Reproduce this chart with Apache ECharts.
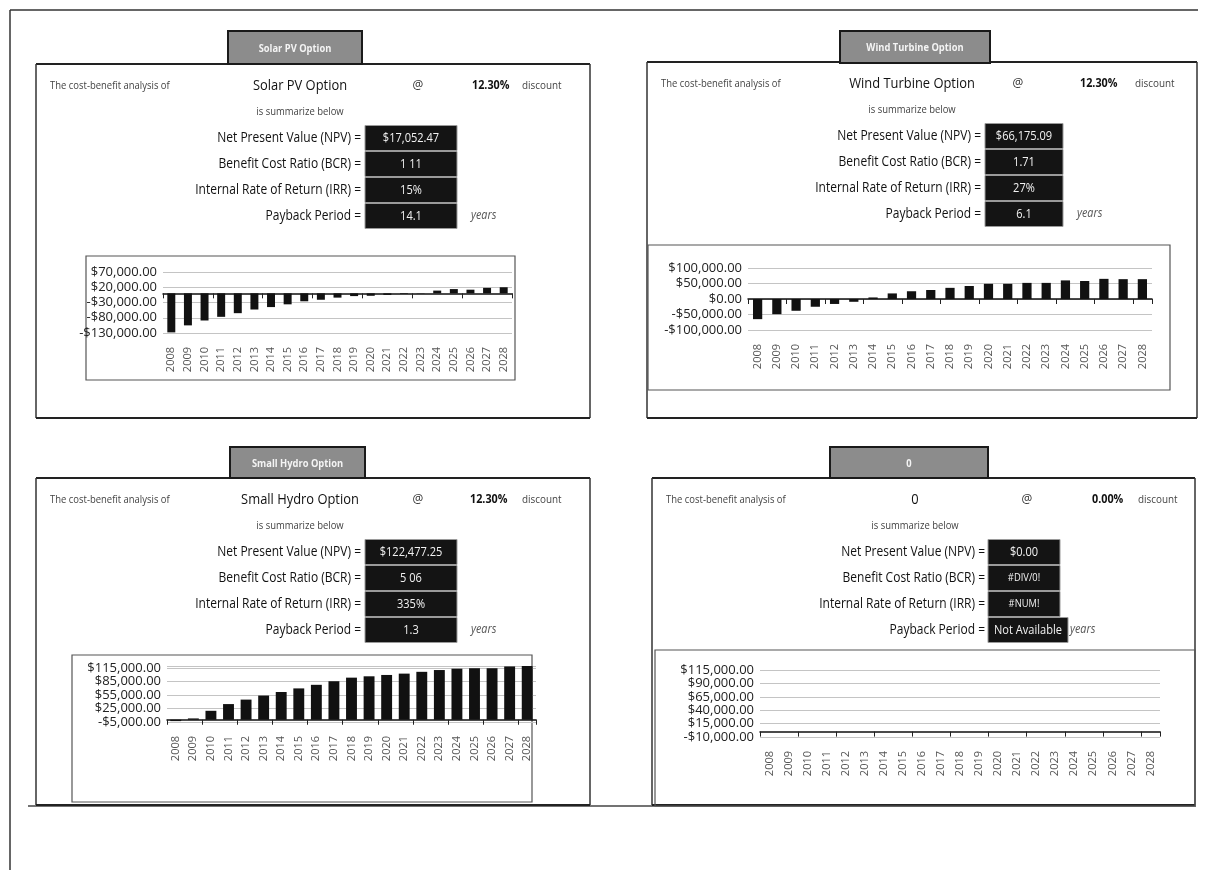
<!DOCTYPE html>
<html>
<head>
    <meta charset="utf-8">
    <title>Cost-benefit summary</title>
    <script src="https://cdn.jsdelivr.net/npm/echarts@6/dist/echarts.min.js"></script>
    <style>
        html, body { margin: 0; padding: 0; background: #fff; }
    </style>
</head>
<body>
    <div id="main" style="width: 1208px;height:870px;"></div>

    <script type="text/javascript">
        // categories
        var years = ['2008', '2009', '2010', '2011', '2012', '2013', '2014', '2015', '2016', '2017', '2018',
            '2019', '2020', '2021', '2022', '2023', '2024', '2025', '2026', '2027', '2028'];

        // cumulative cash flow
        var solarValues = [-128000, -105000, -89000, -77000, -65000, -53000, -45000, -36000, -26000, -21000, -14000,
            -9000, -8000, -5000, -2000, 1000, 9000, 14000, 12000, 18000, 20000];
        var windValues = [-65000, -49000, -38000, -25000, -16000, -9000, 5000, 18000, 25000, 29000, 36000,
            42000, 49000, 49000, 52000, 52000, 60000, 58000, 65000, 64000, 64000];
        var hydroValues = [-3000, 3000, 20000, 35000, 45000, 54000, 62000, 70000, 78000, 86000, 94000,
            97000, 100000, 103000, 107000, 111000, 114000, 115000, 115000, 119000, 120000];
        var blankValues = [0, 0, 0, 0, 0, 0, 0, 0, 0, 0, 0, 0, 0, 0, 0, 0, 0, 0, 0, 0, 0];

        // tick labels of the value axes
        var solarTicks = [-130000, -80000, -30000, 20000, 70000];
        var windTicks = [-100000, -50000, 0, 50000, 100000];
        var hydroTicks = [-5000, 25000, 55000, 85000, 115000];
        var blankTicks = [-10000, 15000, 40000, 65000, 90000, 115000];

        // summary texts
        var optionNames = ['Solar PV Option', 'Wind Turbine Option', 'Small Hydro Option', '0'];
        var discountRates = ['12.30%', '12.30%', '12.30%', '0.00%'];
        var npvTexts = ['$17,052.47', '$66,175.09', '$122,477.25', '$0.00'];
        var bcrTexts = ['1 11', '1.71', '5 06', '#DIV/0!'];
        var irrTexts = ['15%', '27%', '335%', '#NUM!'];
        var paybackTexts = ['14.1', '6.1', '1.3', 'Not Available'];
        var rowLabels = ['Net Present Value (NPV) =', 'Benefit Cost Ratio (BCR) =',
            'Internal Rate of Return (IRR) =', 'Payback Period ='];

        var FONT = '"Open Sans", "Noto Sans", sans-serif';

        // panel layout (x0 = left edge of panel, y0 = top of the panel box)
        var panels = [
            { x0: 36, x1: 590, y0: 64, y1: 418, tab: [228, 31, 134, 33], mid: 300, labelX: 361, boxX: 365, boxW: 92,
              at: 418, rate: 472, disc: 522, frame: [86, 256, 429, 124],
              grid: { left: 163, top: 272, width: 349, height: 61 }, min: -130000, max: 70000, interval: 50000 },
            { x0: 647, x1: 1197, y0: 62, y1: 418, tab: [840, 31, 150, 32], mid: 912, labelX: 981, boxX: 985, boxW: 78,
              at: 1018, rate: 1080, disc: 1135, frame: [648, 245, 522, 145],
              grid: { left: 748, top: 268, width: 404, height: 62 }, min: -100000, max: 100000, interval: 50000 },
            { x0: 36, x1: 590, y0: 478, y1: 805, tab: [230, 447, 135, 31], mid: 300, labelX: 361, boxX: 365, boxW: 92,
              at: 418, rate: 470, disc: 522, frame: [72, 655, 460, 147],
              grid: { left: 167, top: 666, width: 369, height: 56 }, min: -5000, max: 120000, interval: 30000 },
            { x0: 652, x1: 1195, y0: 478, y1: 805, tab: [830, 447, 158, 31], mid: 915, labelX: 985, boxX: 988, boxW: 72,
              at: 1027, rate: 1092, disc: 1138, frame: [655, 650, 540, 156],
              grid: { left: 760, top: 670, width: 400, height: 67 }, min: -10000, max: 115000, interval: 25000 }
        ];
        var seriesData = [solarValues, windValues, hydroValues, blankValues];
        var tickLists = [solarTicks, windTicks, hydroTicks, blankTicks];
        var barGaps = ['52%', '52%', '38%', '52%'];

        // text drawn narrower than the font, like the condensed spreadsheet font
        function txt(x, y, s, font, align, color, sx) {
            return {
                type: 'text', silent: true, x: x, y: y, scaleX: sx || 1,
                style: { x: 0, y: 0, text: s, font: font, textAlign: align || 'left',
                    textVerticalAlign: 'middle', fill: color || '#111' }
            };
        }
        function line(x1, y1, x2, y2, w, color) {
            return {
                type: 'line', silent: true,
                shape: { x1: x1, y1: y1, x2: x2, y2: y2 },
                style: { stroke: color || '#222', lineWidth: w || 1 }
            };
        }
        function box(x, y, w, h, fill, stroke, lw) {
            return {
                type: 'rect', silent: true,
                shape: { x: x, y: y, width: w, height: h },
                style: { fill: fill || 'none', stroke: stroke || null, lineWidth: lw || 1 }
            };
        }

        function money(v) {
            var s = Math.abs(v).toLocaleString('en-US', { minimumFractionDigits: 2, maximumFractionDigits: 2 });
            return (v < 0 ? '-$' : '$') + s;
        }

        var graphics = [];
        // page frame
        graphics.push(line(10, 10, 1198, 10, 1.5, '#333'));
        graphics.push(line(10, 10, 10, 870, 1.5, '#333'));
        graphics.push(line(28, 806, 1196, 806, 1.5, '#444'));

        var grids = [], xAxes = [], yAxes = [], series = [];

        panels.forEach(function (p, i) {
            // panel box
            graphics.push(line(p.x0, p.y0, p.x1, p.y0, 2, '#222'));
            graphics.push(line(p.x0, p.y0, p.x0, p.y1, 1.5, '#333'));
            graphics.push(line(p.x1, p.y0, p.x1, p.y1, 1.5, '#333'));
            graphics.push(line(p.x0, p.y1, p.x1, p.y1, 2, '#222'));
            // tab
            graphics.push(box(p.tab[0], p.tab[1], p.tab[2], p.tab[3], '#8c8c8c', '#1a1a1a', 2));
            graphics.push(txt(p.tab[0] + p.tab[2] / 2, p.tab[1] + p.tab[3] / 2 + 1, optionNames[i],
                'bold 11px ' + FONT, 'center', '#f4f4f4', 0.85));

            var r0 = p.y0 + 22;
            graphics.push(txt(p.x0 + 14, r0, 'The cost-benefit analysis of', '11px ' + FONT, 'left', '#444', 0.86));
            graphics.push(txt(p.mid, r0, optionNames[i], '15px ' + FONT, 'center', '#111', 0.86));
            graphics.push(txt(p.at, r0, '@', '12px ' + FONT, 'center', '#333'));
            graphics.push(txt(p.rate, r0, discountRates[i], 'bold 12px ' + FONT, 'left', '#111', 0.9));
            graphics.push(txt(p.disc, r0, 'discount', '11px ' + FONT, 'left', '#444', 0.9));
            graphics.push(txt(p.mid, r0 + 26, 'is summarize below', '11px ' + FONT, 'center', '#444', 0.86));

            var vals = [npvTexts[i], bcrTexts[i], irrTexts[i], paybackTexts[i]];
            rowLabels.forEach(function (lab, k) {
                var yc = r0 + 52 + k * 26;
                graphics.push(txt(p.labelX, yc, lab, '15px ' + FONT, 'right', '#111', 0.8));
                var w = (k === 3 && i === 3) ? 80 : p.boxW;
                graphics.push(box(p.boxX, yc - 12.5, w, 25, '#141414', '#9a9a9a', 1));
                graphics.push(txt(p.boxX + w / 2, yc, vals[k], (i === 3 && k > 0 && k < 3 ? '11px ' : '13px ') + FONT,
                    'center', '#f2f2f2', 0.85));
            });
            var yPay = r0 + 52 + 3 * 26;
            var yearsX = (i === 3) ? p.boxX + 82 : p.boxX + p.boxW + 14;
            graphics.push(txt(yearsX, yPay, 'years', 'italic 12px ' + FONT, 'left', '#555', 0.9));

            // chart frame
            graphics.push(box(p.frame[0], p.frame[1], p.frame[2], p.frame[3], 'none', '#555', 1.2));

            // chart
            grids.push({ left: p.grid.left, top: p.grid.top, width: p.grid.width, height: p.grid.height });
            var ticks = tickLists[i];
            xAxes.push({
                type: 'category', gridIndex: i, data: years, position: 'bottom',
                axisLine: { show: false, onZero: false }, axisTick: { show: false },
                axisLabel: { rotate: 90, fontSize: 11, color: '#555', fontFamily: FONT, margin: 14, interval: 0 }
            });
            xAxes.push({
                type: 'category', gridIndex: i, data: years, position: 'top',
                axisLine: { show: true, onZero: true, lineStyle: { color: '#111', width: 1.5 } },
                axisTick: { show: true, inside: true, length: 5, lineStyle: { color: '#222' } },
                axisLabel: { show: false }
            });
            yAxes.push({
                type: 'value', gridIndex: i, min: p.min, max: p.max, interval: p.interval,
                axisLine: { show: false }, axisTick: { show: false },
                splitLine: { lineStyle: { color: '#c4c4c4', width: 1 } },
                axisLabel: {
                    fontSize: 13, lineHeight: 8, color: '#222', fontFamily: FONT, margin: 6, hideOverlap: false,
                    showMinLabel: true, showMaxLabel: ticks.indexOf(p.max) >= 0,
                    formatter: function (v) { return ticks.indexOf(v) >= 0 ? money(v) : ''; }
                }
            });
            series.push({
                type: 'bar', xAxisIndex: i * 2 + 1, yAxisIndex: i, data: seriesData[i],
                barCategoryGap: barGaps[i], itemStyle: { color: '#111' }, silent: true
            });
        });

        var myChart = echarts.init(document.getElementById('main'));
        var option = {
            backgroundColor: '#ffffff',
            animation: false,
            grid: grids,
            xAxis: xAxes,
            yAxis: yAxes,
            series: series,
            graphic: { elements: graphics }
        };
        myChart.setOption(option);
    </script>
</body>
</html>
